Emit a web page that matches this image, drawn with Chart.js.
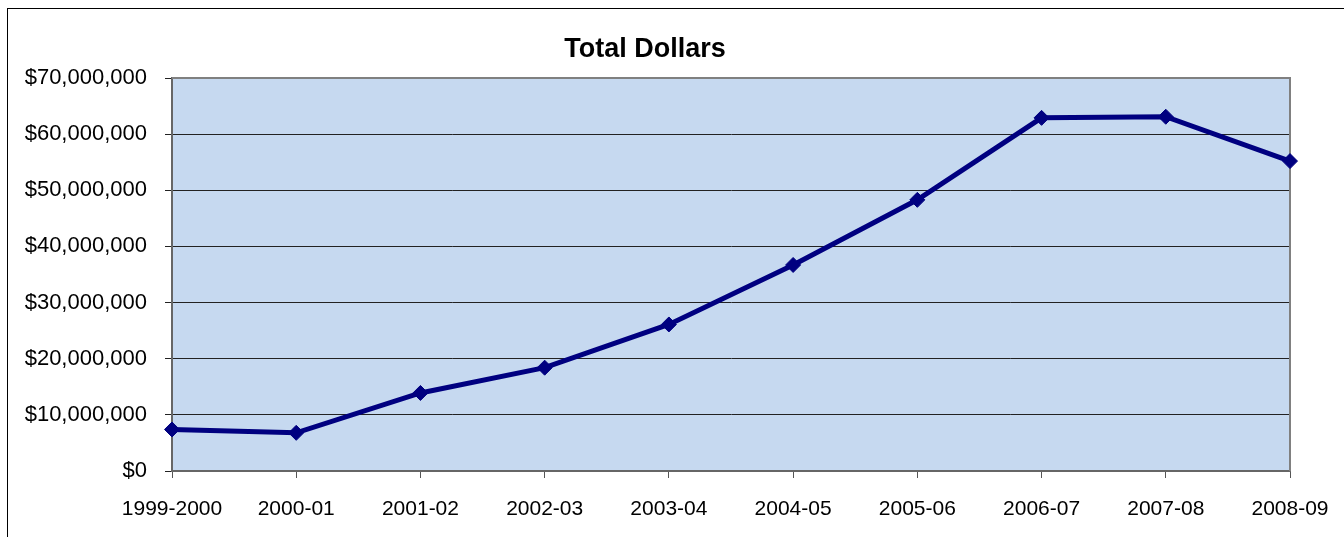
<!DOCTYPE html>
<html>
<head>
<meta charset="utf-8">
<script src="https://cdn.jsdelivr.net/npm/chart.js@4"></script>
<style>
  html, body { margin: 0; padding: 0; background: #ffffff; }
  #wrap { position: relative; width: 1344px; height: 537px; }
  canvas { display: block; }
</style>
</head>
<body>
<div id="wrap"><canvas id="c" width="1344" height="537"></canvas></div>
<script>
const categories = ['1999-2000', '2000-01', '2001-02', '2002-03', '2003-04', '2004-05', '2005-06', '2006-07', '2007-08', '2008-09'];
const totalDollars = [7400000, 6800000, 13900000, 18400000, 26100000, 36700000, 48300000, 62900000, 63100000, 55200000];
const yMin = 0;
const yMax = 70000000;
const yStep = 10000000;
const chartTitle = 'Total Dollars';

const FONT = '"Liberation Sans", Arial, sans-serif';

const decor = {
  id: 'decor',
  beforeDraw(chart) {
    const { ctx, chartArea: a } = chart;
    ctx.save();
    ctx.strokeStyle = '#000000';
    ctx.lineWidth = 1;
    ctx.strokeRect(7.5, 8.5, 1400, 600);
    ctx.fillStyle = '#C6D9F0';
    ctx.fillRect(a.left, a.top, a.right - a.left, a.bottom - a.top);
    ctx.restore();
  },
  beforeDatasetsDraw(chart) {
    const { ctx, chartArea: a } = chart;
    ctx.save();
    ctx.strokeStyle = '#808080';
    ctx.lineWidth = 2;
    ctx.beginPath();
    ctx.moveTo(a.left, a.top);
    ctx.lineTo(a.right, a.top);
    ctx.lineTo(a.right, a.bottom);
    ctx.stroke();
    ctx.restore();
  }
};

new Chart(document.getElementById('c'), {
  type: 'line',
  data: {
    labels: categories,
    datasets: [{
      label: chartTitle,
      data: totalDollars,
      borderColor: '#000080',
      backgroundColor: '#000080',
      borderWidth: 5,
      tension: 0,
      pointStyle: 'rectRot',
      pointRadius: 7.5,
      pointBorderWidth: 1,
      pointBackgroundColor: '#000080',
      pointBorderColor: '#000080'
    }]
  },
  options: {
    responsive: false,
    animation: false,
    layout: { padding: { left: 0, right: 54, top: 0, bottom: 0 } },
    plugins: {
      legend: { display: false },
      tooltip: { enabled: false },
      title: {
        display: true,
        text: chartTitle,
        color: '#000000',
        font: { family: FONT, size: 27, weight: 'bold', lineHeight: 1.2 },
        padding: { top: 33.3, bottom: 12.3 }
      }
    },
    scales: {
      x: {
        offset: false,
        grid: { display: true, drawOnChartArea: false, drawTicks: true, tickLength: 7, color: '#555555' },
        border: { display: true, color: '#666666', width: 2 },
        ticks: {
          color: '#000000',
          font: { family: FONT, size: 21 },
          maxRotation: 0,
          autoSkip: false,
          padding: 19
        },
        afterFit(scale) {
          scale.height = 66;
          scale.paddingLeft = 0;
          scale.paddingRight = 0;
        }
      },
      y: {
        min: yMin,
        max: yMax,
        grid: { color: '#222222', lineWidth: 1, tickLength: 7, drawTicks: true },
        border: { display: true, color: '#666666', width: 2 },
        ticks: {
          stepSize: yStep,
          color: '#000000',
          font: { family: FONT, size: 22 },
          padding: 18,
          callback: (v) => '$' + Number(v).toLocaleString('en-US')
        },
        afterFit(scale) { scale.width = 172; }
      }
    }
  },
  plugins: [decor]
});
</script>
</body>
</html>
